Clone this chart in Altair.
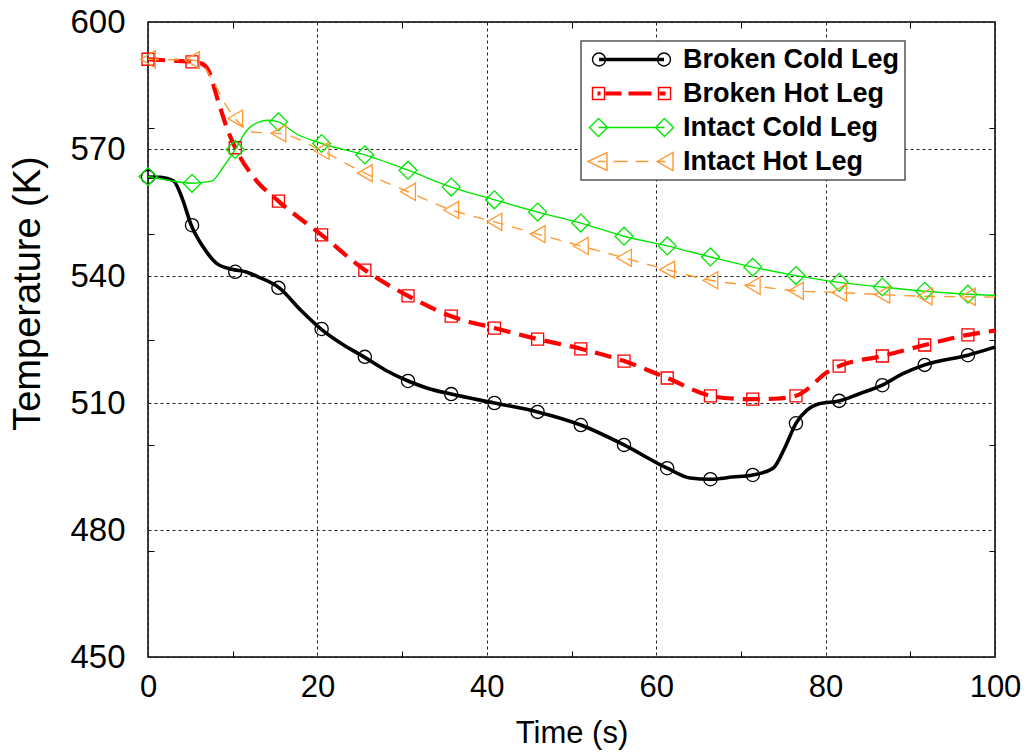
import altair as alt
import pandas as pd

series_names = ["Broken Cold Leg", "Broken Hot Leg", "Intact Cold Leg", "Intact Hot Leg"]
series_colors = ["#000000", "#ff0000", "#00e600", "#ff9933"]

# ---- line traces (time s, temperature K) ----
bcl_line_t = [0, 1.5, 3.0, 4.1, 5.1, 6.5, 8.1, 9.9, 11.5, 13.0, 15.5, 18.0, 20.4, 23.0, 25.5, 28.0,
              30.7, 33.0, 35.8, 40.9, 46.0, 51.1, 56.2, 61.3, 64.0, 66.4, 69.0, 71.4, 73.8, 75.2,
              76.5, 77.8, 79.2, 81.6, 84.0, 86.7, 89.0, 91.7, 96.8, 100]
bcl_line_T = [563.4, 563.3, 562.5, 558.0, 552.0, 546.9, 543.0, 541.6, 541.0, 539.8, 537.2, 532.0,
              527.5, 523.8, 520.9, 517.8, 515.2, 513.5, 512.1, 510.0, 507.9, 504.8, 500.1, 494.6,
              492.3, 492.0, 492.5, 493.0, 494.6, 499.5, 505.2, 508.3, 509.8, 510.5, 512.2, 514.2,
              516.8, 519.0, 521.3, 523.2]

bhl_line_t = [0, 2.5, 5.2, 6.3, 7.1, 8.3, 9.4, 10.3, 12.4, 15.4, 20.5, 25.6, 30.7, 35.8, 40.9, 46.0,
              51.1, 56.2, 61.3, 66.4, 69.5, 71.4, 74.0, 76.5, 78.2, 79.7, 81.6, 86.7, 91.7, 96.8, 100]
bhl_line_T = [591.2, 590.9, 590.6, 590.2, 588.7, 581.2, 574.5, 570.3, 563.5, 557.7, 549.7, 541.4,
              535.3, 530.5, 527.7, 525.1, 522.8, 519.9, 515.9, 511.7, 511.0, 510.9, 511.0, 511.7,
              513.8, 516.6, 518.7, 521.1, 523.7, 526.1, 527.1]

icl_line_t = [0, 2.5, 5.2, 7.5, 8.9, 10.3, 11.7, 13.0, 14.2, 15.4, 17.5, 20.5, 25.6, 30.7, 35.8,
              40.9, 46.0, 51.1, 56.2, 61.3, 66.4, 71.4, 76.5, 81.6, 86.7, 91.7, 96.8, 100]
icl_line_T = [563.5, 562.6, 561.9, 562.4, 565.8, 569.9, 574.5, 576.3, 576.8, 576.4, 573.6, 571.3,
              568.6, 565.0, 561.0, 558.0, 555.1, 552.5, 549.4, 547.1, 544.5, 542.1, 540.1, 538.5,
              537.4, 536.4, 535.7, 535.4]

ihl_line_t = [0, 2.5, 5.2, 6.1, 7.7, 9.3, 10.3, 12.4, 15.4, 20.5, 25.6, 30.7, 35.8, 40.9, 46.0,
              51.1, 56.2, 61.3, 66.4, 71.4, 76.5, 81.6, 86.7, 91.7, 96.8, 100]
ihl_line_T = [591.2, 591.1, 591.0, 590.6, 585.9, 580.0, 577.2, 574.0, 573.7, 569.6, 564.3, 559.9,
              555.6, 552.8, 549.9, 547.1, 544.3, 541.5, 539.0, 537.7, 536.5, 536.1, 535.6, 535.2,
              535.1, 535.0]

# ---- marker samples ----
marker_t = [0, 5.2, 10.3, 15.4, 20.5, 25.6, 30.7, 35.8, 40.9, 46.0, 51.1, 56.2, 61.3, 66.4, 71.4,
            76.5, 81.6, 86.7, 91.7, 96.8]
bcl_mark_T = [563.4, 552.0, 541.0, 537.2, 527.5, 520.9, 515.2, 512.1, 510.0, 507.9, 504.8, 500.1,
              494.6, 492.0, 493.0, 505.2, 510.5, 514.2, 519.0, 521.3]
bhl_mark_T = [591.2, 590.6, 570.3, 557.7, 549.7, 541.4, 535.3, 530.5, 527.7, 525.1, 522.8, 519.9,
              515.9, 511.7, 510.9, 511.7, 518.7, 521.1, 523.7, 526.1]
icl_mark_T = [563.5, 561.9, 569.9, 576.4, 571.3, 568.6, 565.0, 561.0, 558.0, 555.1, 552.5, 549.4,
              547.1, 544.5, 542.1, 540.1, 538.5, 537.4, 536.4, 535.7]
ihl_mark_T = [591.2, 591.0, 577.2, 573.7, 569.6, 564.3, 559.9, 555.6, 552.8, 549.9, 547.1, 544.3,
              541.5, 539.0, 537.7, 536.5, 536.1, 535.6, 535.2, 535.1]

x_label_values = [0, 20, 40, 60, 80, 100]
y_label_values = [450, 480, 510, 540, 570, 600]
x_minor_ticks = [10, 30, 50, 70, 90]
y_minor_ticks = [475, 500, 525, 550, 575]

FONT = "Liberation Sans"
xs = alt.Scale(domain=[0, 100], nice=False, zero=False)
ys = alt.Scale(domain=[450, 600], nice=False, zero=False)

main_x_axis = alt.Axis(values=x_label_values, title="Time (s)", grid=True, ticks=False, domain=False,
                       labelFont=FONT, labelFontSize=31, labelPadding=39, labelBaseline="alphabetic",
                       labelFlush=False, labelColor="black",
                       titleFont=FONT, titleFontSize=31, titleFontWeight="normal", titleColor="black",
                       titleY=85, titleBaseline="alphabetic",
                       gridColor="#222222", gridDash=[3, 3], gridWidth=1, gridOpacity=1, orient="bottom")
main_y_axis = alt.Axis(values=y_label_values, title="Temperature (K)", grid=True, ticks=False, domain=False,
                       labelFont=FONT, labelFontSize=33, labelPadding=23, labelColor="black",
                       labelFlush=False,
                       titleFont=FONT, titleFontSize=38, titleFontWeight="normal", titleColor="black",
                       titleAngle=270, titleX=-109, titleY=271, titleBaseline="alphabetic", titleAlign="center",
                       gridColor="#222222", gridDash=[3, 3], gridWidth=1, gridOpacity=1, orient="left")


def tick_axis(values, orient):
    return alt.Axis(values=values, orient=orient, offset=-6, tickSize=6, ticks=True, labels=False,
                    domain=False, grid=False, title=None, tickColor="black", tickWidth=1)


line_specs = [
    (bcl_line_t, bcl_line_T, dict(color="#000000", strokeWidth=3.6)),
    (bhl_line_t, bhl_line_T, dict(color="#ff0000", strokeWidth=4.2, strokeDash=[17, 9])),
    (icl_line_t, icl_line_T, dict(color="#00e600", strokeWidth=1.4)),
    (ihl_line_t, ihl_line_T, dict(color="#ff9933", strokeWidth=1.4, strokeDash=[11, 9])),
]
axis_sets = [
    (main_x_axis, main_y_axis),
    (tick_axis(x_minor_ticks, "bottom"), tick_axis(y_minor_ticks, "left")),
    (tick_axis(x_minor_ticks, "top"), tick_axis(y_minor_ticks, "right")),
    (None, None),
]

layers = []
for i, (tt, TT, style) in enumerate(line_specs):
    df = pd.DataFrame({"t": tt, "T": TT, "series": series_names[i]})
    ax, ay = axis_sets[i]
    layers.append(
        alt.Chart(df).mark_line(interpolate="monotone", **style).encode(
            x=alt.X("t:Q", scale=xs, axis=ax),
            y=alt.Y("T:Q", scale=ys, axis=ay),
        )
    )

marker_specs = [
    (bcl_mark_T, "circle", 175, "#000000"),
    (bhl_mark_T, "square", 144, "#ff0000"),
    (icl_mark_T, "diamond", 320, "#00e600"),
    (ihl_mark_T, "triangle-left", 290, "#ff9933"),
]
for i, (TT, shp, sz, col) in enumerate(marker_specs):
    df = pd.DataFrame({"t": marker_t, "T": TT, "series": series_names[i]})
    layers.append(
        alt.Chart(df).mark_point(shape=shp, size=sz, filled=False, color=col, strokeWidth=1.3, opacity=1).encode(
            x=alt.X("t:Q", scale=xs, axis=None),
            y=alt.Y("T:Q", scale=ys, axis=None),
        )
    )

# ---- legend symbols: marker - line - marker as SVG paths (units of 6 px) ----
U = 6.0


def f(v):
    return f"{v / U:.3f}"


def circ(cx, r):
    return (f"M{f(cx - r)},0A{f(r)},{f(r)} 0 1,0 {f(cx + r)},0"
            f"A{f(r)},{f(r)} 0 1,0 {f(cx - r)},0")


def sq(cx, h):
    return f"M{f(cx - h)},{f(-h)}L{f(cx + h)},{f(-h)}L{f(cx + h)},{f(h)}L{f(cx - h)},{f(h)}Z"


def dia(cx, h):
    return f"M{f(cx - h)},0L{f(cx)},{f(-h)}L{f(cx + h)},0L{f(cx)},{f(h)}Z"


def tri(tip, base, h):
    return f"M{f(tip)},0L{f(base)},{f(-h)}L{f(base)},{f(h)}Z"


def segs(pairs, offsets):
    out = ""
    for a, b in pairs:
        for o in offsets:
            out += f"M{f(a)},{f(o)}L{f(b)},{f(o)}"
    return out


legend_paths = [
    circ(-32.5, 6.5) + circ(32.5, 6.5) + segs([(-32.5, 32.5)], [-1.1, 0, 1.1]),
    sq(-33, 6) + sq(33, 6) + segs([(-34, -31), (-26, -10), (-3, 20), (28, 34)], [-1.3, 0, 1.3]),
    dia(-33, 9) + dia(33, 9) + segs([(-33, 33)], [0]),
    tri(-43.5, -24.5, 9) + tri(25.5, 41.5, 9) + segs([(-34, -26), (-18, -4), (4, 17), (26, 34)], [0]),
]

legend_cfg = alt.Legend(title=None, orient="none", legendX=433, legendY=19, padding=5, rowPadding=6,
                        symbolOffset=32, labelOffset=38, labelFont=FONT, labelFontSize=27,
                        labelFontWeight="bold", labelColor="black", labelLimit=0,
                        strokeColor="#555555", fillColor="white", symbolSize=144,
                        symbolStrokeWidth=1.4, symbolFillColor="transparent")

legend_df = pd.DataFrame({"series": series_names})
legend_layer = alt.Chart(legend_df).transform_filter("false").mark_point(
    filled=False, opacity=1, size=144, strokeWidth=1.4
).encode(
    color=alt.Color("series:N", scale=alt.Scale(domain=series_names, range=series_colors), legend=legend_cfg),
    shape=alt.Shape("series:N", scale=alt.Scale(domain=series_names, range=legend_paths), legend=legend_cfg),
)
layers.append(legend_layer)

chart = alt.layer(*layers).resolve_axis(x="independent", y="independent").properties(
    width=847, height=635,
    autosize=alt.AutoSizeParams(type="none"),
    padding={"left": 148, "top": 22, "right": 37, "bottom": 96},
    background="white",
).configure(font=FONT).configure_view(stroke="black", strokeWidth=1.5).configure_legend(strokeWidth=1.5)

chart.save("out.html", embed_options={"renderer": "svg", "actions": False})
